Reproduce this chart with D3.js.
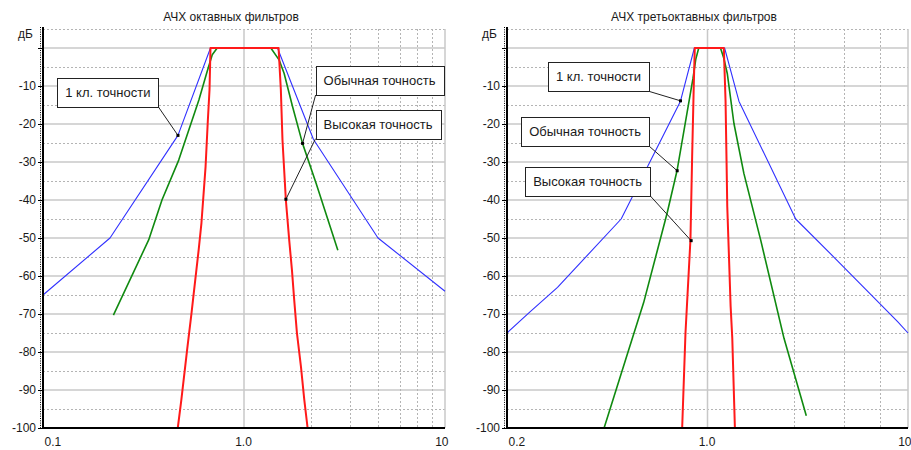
<!DOCTYPE html>
<html><head><meta charset="utf-8">
<script src="https://cdn.jsdelivr.net/npm/d3@7"></script>
<style>
html,body{margin:0;padding:0;background:#fff;}
svg{display:block;font-family:"Liberation Sans",Arial,sans-serif;}
</style></head><body>
<svg id="c" width="911" height="450"></svg>
<script>
// ---------- DATA ----------
const yUnit = "дБ";
const yTickValues = [0, -10, -20, -30, -40, -50, -60, -70, -80, -90, -100];
const yMinorGrid = [5, -5, -15, -25, -35, -45, -55, -65, -75, -85, -95];

// Octave filters chart
const octTitle = "АЧХ октавных фильтров";
const octXTicks = [0.125, 1, 8];
const octXTickLabels = ["0.1", "1.0", "10"];
const octXMinor = [2, 3, 4, 5, 6, 7];
const octClass1F  = [0.125, 0.25, 0.505, 0.707, 1.414, 2.05, 4.0, 8.0];
const octClass1Db = [-65, -50, -23, 0, 0, -24, -50, -64];
const octNormalF  = [0.259, 0.373, 0.428, 0.509, 0.627, 0.683, 0.72, 0.758, 1.32, 1.44, 1.515, 1.652, 1.832, 2.108, 2.64];
const octNormalDb = [-70.3, -50.5, -40, -29.5, -13.7, -6.2, -1.8, 0, 0, -3.2, -6.7, -15.4, -25.1, -35.6, -53.2];
const octHighF  = [0.504, 0.523, 0.555, 0.581, 0.590, 0.626, 0.644, 0.672, 0.688, 0.700, 0.707, 1.43, 1.464, 1.489, 1.542, 1.596, 1.642, 1.681, 1.729, 1.803, 1.866, 1.931];
const octHighDb = [-100, -92.6, -79.5, -69.8, -66.3, -53, -46, -31.2, -19, -11, 0, 0, -11, -24.2, -40, -50.5, -58.4, -66.3, -75, -83.9, -92.6, -100];
const octNoteText  = ["1 кл. точности", "Обычная точность", "Высокая точность"];
const octNoteF     = [0.505, 1.833, 1.543];
const octNoteDb    = [-23, -25.1, -39.8];
const octNoteBoxF  = [0.2445, 4.065, 4.0];
const octNoteBoxDb = [-11.7, -8.55, -20.05];
const octNoteSide  = ["right", "left", "left"];

// Third-octave filters chart
const thirdTitle = "АЧХ третьоктавных фильтров";
const thirdXTicks = [0.2, 1, 5];
const thirdXTickLabels = ["0.2", "1.0", "10"];
const thirdXMinor = [2, 3, 4];
const thirdClass1F  = [0.2, 0.24, 0.3, 0.5, 0.805, 0.9, 1.147, 1.287, 2.03, 2.84, 4.6, 5];
const thirdClass1Db = [-75, -69.5, -63, -45, -14, 0, 0, -14, -45, -56, -72, -75];
const thirdNormalF  = [0.436, 0.531, 0.599, 0.723, 0.784, 0.89, 0.91, 0.932, 1.11, 1.14, 1.172, 1.236, 1.339, 1.532, 1.848, 2.21];
const thirdNormalDb = [-100, -79.5, -67, -43.5, -32.1, -8, -3, 0, 0, -2.7, -6.7, -19.8, -33, -50.5, -76.4, -96.8];
const thirdHighF  = [0.816, 0.838, 0.872, 0.884, 0.896, 0.903, 1.140, 1.156, 1.165, 1.172, 1.187, 1.204, 1.22, 1.246];
const thirdHighDb = [-100, -75, -50.5, -28.6, -9.3, 0, 0, -14, -29.5, -41.8, -54, -68, -76.3, -100];
const thirdNoteText  = ["1 кл. точности", "Обычная точность", "Высокая точность"];
const thirdNoteF     = [0.805, 0.784, 0.877];
const thirdNoteDb    = [-13.9, -32.3, -50.7];
const thirdNoteBoxF  = [0.417, 0.3745, 0.382];
const thirdNoteBoxDb = [-7.6, -22.0, -35.05];
const thirdNoteSide  = ["right", "right", "right"];

// ---------- DRAWING ----------
const svg = d3.select("#c");
const colors = {class1: "#3030ff", normal: "#108a10", high: "#ff1a1a"};
const widths = {class1: 1.1, normal: 1.6, high: 2};

function zip(fs, ds) { return fs.map((f, i) => ({f: f, db: ds[i]})); }

function drawChart(o) {
  const g = svg.append("g");
  const x = d3.scaleLog().domain([o.xTicks[0], o.xTicks[o.xTicks.length - 1]]).range([o.x0, o.x1]);
  const y = d3.scaleLinear().domain([-100, 5]).range([428, 29]);
  const X0 = o.x0, X1 = o.x1;

  // title
  g.append("text").attr("x", o.titleX).attr("y", 21).attr("text-anchor", "middle")
    .attr("font-size", 12).attr("fill", "#1a1a1a").text(o.title);

  // horizontal gridlines
  g.append("g").selectAll("line").data(yTickValues.filter(d => d > -100)).join("line")
    .attr("x1", X0).attr("x2", X1).attr("y1", d => y(d)).attr("y2", d => y(d))
    .attr("stroke", "#c8c8c8").attr("stroke-width", 1.5);
  g.append("g").selectAll("line").data(yMinorGrid).join("line")
    .attr("x1", X0).attr("x2", X1).attr("y1", d => Math.round(y(d)) + 0.5).attr("y2", d => Math.round(y(d)) + 0.5)
    .attr("stroke", "#b4b4b4").attr("stroke-width", 1).attr("stroke-dasharray", "2,2");
  // vertical gridlines
  g.append("g").selectAll("line").data(o.xMinor).join("line")
    .attr("x1", d => Math.round(x(d)) + 0.5).attr("x2", d => Math.round(x(d)) + 0.5)
    .attr("y1", y(5)).attr("y2", y(-100))
    .attr("stroke", "#b4b4b4").attr("stroke-width", 1).attr("stroke-dasharray", "2,2");
  g.append("g").selectAll("line").data(o.xTicks.slice(1)).join("line")
    .attr("x1", d => x(d)).attr("x2", d => x(d)).attr("y1", y(5)).attr("y2", y(-100))
    .attr("stroke", "#c8c8c8").attr("stroke-width", 1.5);

  // curves
  const line = d3.line().x(d => x(d.f)).y(d => y(d.db));
  const series = [
    {k: "class1", d: zip(o.c1F, o.c1Db)},
    {k: "normal", d: zip(o.nF, o.nDb)},
    {k: "high", d: zip(o.hF, o.hDb)}
  ];
  series.forEach(s => {
    g.append("path").datum(s.d).attr("d", line).attr("fill", "none")
      .attr("stroke", colors[s.k]).attr("stroke-width", widths[s.k]).attr("stroke-linejoin", "round");
  });

  // y axis
  const yAxis = d3.axisLeft(y).tickValues(yTickValues).tickSize(5).tickSizeOuter(0).tickPadding(2)
    .tickFormat(d => d === 0 ? "" : String(d));
  const ya = g.append("g").attr("transform", `translate(${X0},0)`).call(yAxis);
  ya.select(".domain").attr("stroke", "#000").attr("stroke-width", 2)
    .attr("d", `M0,${y(5) - 2}V${y(-100) + 1}`);
  ya.selectAll(".tick line").attr("stroke", "#000");
  ya.selectAll(".tick text").attr("font-size", 12).attr("fill", "#1a1a1a")
    .attr("font-family", "Liberation Sans, Arial, sans-serif");
  // minor ticks texture
  g.append("line").attr("x1", X0 - 2.5).attr("x2", X0 - 2.5).attr("y1", y(5) - 2).attr("y2", y(-100))
    .attr("stroke", "#000").attr("stroke-width", 1).attr("stroke-dasharray", "1,1.3");
  g.append("text").attr("x", X0 - 10).attr("y", 38).attr("text-anchor", "end")
    .attr("font-size", 12).attr("fill", "#1a1a1a").text(yUnit);

  // x axis
  const xAxis = d3.axisBottom(x).tickValues(o.xTicks).tickSize(0).tickPadding(9)
    .tickFormat((d, i) => o.xTickLabels[i]);
  const xa = g.append("g").attr("transform", `translate(0,${y(-100)})`).call(xAxis);
  xa.select(".domain").attr("stroke", "#000").attr("stroke-width", 2)
    .attr("d", `M${X0 - 1},0H${X1}`);
  xa.selectAll(".tick text").attr("font-size", 12).attr("fill", "#1a1a1a")
    .attr("font-family", "Liberation Sans, Arial, sans-serif")
    .attr("text-anchor", (d, i) => i === 0 ? "start" : (i === o.xTicks.length - 1 ? "end" : "middle"))
    .attr("dx", (d, i) => i === 0 ? 1 : (i === o.xTicks.length - 1 ? 3 : -1));

  // annotations
  o.notes.text.forEach((t, i) => {
    const cx = x(o.notes.boxF[i]), cy = y(o.notes.boxDb[i]);
    const tx = g.append("text").attr("font-size", 13).attr("fill", "#1a1a1a")
      .attr("text-anchor", "middle").attr("x", cx).attr("y", cy).attr("dy", "0.35em").text(t);
    const w = tx.node().getComputedTextLength() + 16, h = 29;
    const bx = cx - w / 2, by = cy - h / 2;
    const px = x(o.notes.f[i]), py = y(o.notes.db[i]);
    const ax = o.notes.side[i] === "right" ? bx + w : bx, ay = by + h;
    g.insert("line", () => tx.node()).attr("x1", ax).attr("y1", ay).attr("x2", px).attr("y2", py)
      .attr("stroke", "#222").attr("stroke-width", 1);
    g.insert("rect", () => tx.node()).attr("x", Math.round(bx) + 0.5).attr("y", Math.round(by) + 0.5)
      .attr("width", Math.round(w)).attr("height", h)
      .attr("fill", "#fff").attr("stroke", "#222").attr("stroke-width", 1);
    g.append("rect").attr("x", px - 1.5).attr("y", py - 1.5).attr("width", 3).attr("height", 3).attr("fill", "#000");
  });
}

drawChart({
  title: octTitle, titleX: 231, x0: 43, x1: 445,
  xTicks: octXTicks, xTickLabels: octXTickLabels, xMinor: octXMinor,
  c1F: octClass1F, c1Db: octClass1Db, nF: octNormalF, nDb: octNormalDb, hF: octHighF, hDb: octHighDb,
  notes: {text: octNoteText, f: octNoteF, db: octNoteDb, boxF: octNoteBoxF, boxDb: octNoteBoxDb, side: octNoteSide}
});
drawChart({
  title: thirdTitle, titleX: 694, x0: 507, x1: 908,
  xTicks: thirdXTicks, xTickLabels: thirdXTickLabels, xMinor: thirdXMinor,
  c1F: thirdClass1F, c1Db: thirdClass1Db, nF: thirdNormalF, nDb: thirdNormalDb, hF: thirdHighF, hDb: thirdHighDb,
  notes: {text: thirdNoteText, f: thirdNoteF, db: thirdNoteDb, boxF: thirdNoteBoxF, boxDb: thirdNoteBoxDb, side: thirdNoteSide}
});
</script>
</body></html>
